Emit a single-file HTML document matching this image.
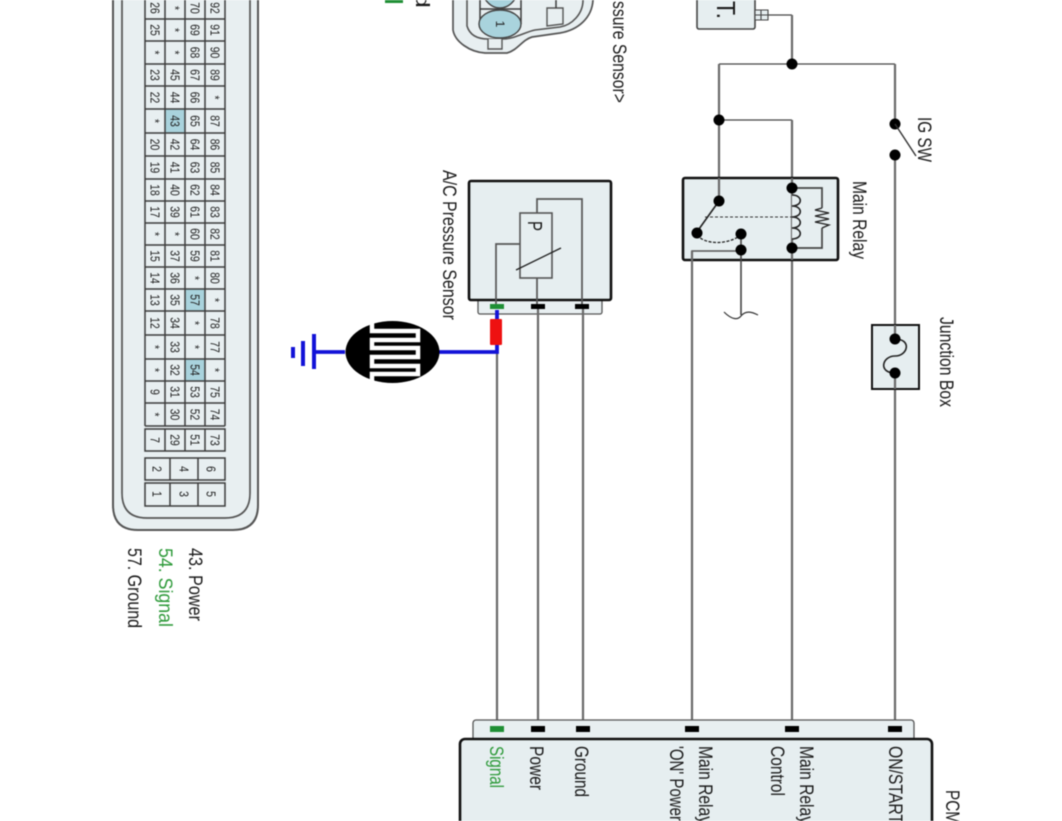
<!DOCTYPE html>
<html><head><meta charset="utf-8"><style>
html,body{margin:0;padding:0;background:#fff}
svg{display:block;filter:blur(.4px)}
text{font-family:"Liberation Sans",sans-serif;fill:#1a1a1a}
.c{font-size:13px;text-anchor:middle;fill:#222}
.l{font-size:19px}
.w{fill:none;stroke:#6a6a6a;stroke-width:2.2}
.t{fill:none;stroke:#444;stroke-width:1.3}
.b{fill:#e6eef0;stroke:#111;stroke-width:2.6}
.g{stroke:#3c3c3c;stroke-width:1.5;fill:none}
</style></head><body>
<svg width="1062" height="821" viewBox="0 0 1062 821" xmlns="http://www.w3.org/2000/svg">
<rect width="1062" height="821" fill="#fff"/>
<!-- ECU connector -->
<path d="M113 -5V505Q113 530 138 530H233Q258 530 258 505V-5" fill="#e8eff1" stroke="#555" stroke-width="2"/>
<path d="M122 -5V493Q122 518 147 518H225Q250 518 250 493V-5" fill="none" stroke="#555" stroke-width="1.7"/>
<rect x="165" y="109" width="20" height="24" fill="#a9d3dd"/>
<rect x="185" y="289" width="20" height="22" fill="#a9d3dd"/>
<rect x="185" y="359" width="20" height="22" fill="#a9d3dd"/>
<path class="g" d="M145 -3V426M165 -3V426M185 -3V426M205 -3V426M225 -3V426M145 19H225M145 41H225M145 64H225M145 86H225M145 109H225M145 133H225M145 156H225M145 179H225M145 201H225M145 223H225M145 245H225M145 267H225M145 289H225M145 311H225M145 335H225M145 359H225M145 381H225M145 403H225M145 426H225"/>
<path class="g" d="M145 429H225V451H145ZM165 429V451M185 429V451M205 429V451M145 458H225V480H145ZM170 458V480M198 458V480M145 483H225V506H145ZM170 483V506M198 483V506"/>
<g class="c">
<text class="c" transform="translate(155,8) rotate(90) scale(.8,1)" y="4.5">26</text><text class="c" transform="translate(175,8) rotate(90) scale(.8,1)" y="4.5">*</text><text class="c" transform="translate(195,8) rotate(90) scale(.8,1)" y="4.5">70</text><text class="c" transform="translate(215,8) rotate(90) scale(.8,1)" y="4.5">92</text>
<text class="c" transform="translate(155,30) rotate(90) scale(.8,1)" y="4.5">25</text><text class="c" transform="translate(175,30) rotate(90) scale(.8,1)" y="4.5">*</text><text class="c" transform="translate(195,30) rotate(90) scale(.8,1)" y="4.5">69</text><text class="c" transform="translate(215,30) rotate(90) scale(.8,1)" y="4.5">91</text>
<text class="c" transform="translate(155,52.5) rotate(90) scale(.8,1)" y="4.5">*</text><text class="c" transform="translate(175,52.5) rotate(90) scale(.8,1)" y="4.5">*</text><text class="c" transform="translate(195,52.5) rotate(90) scale(.8,1)" y="4.5">68</text><text class="c" transform="translate(215,52.5) rotate(90) scale(.8,1)" y="4.5">90</text>
<text class="c" transform="translate(155,75) rotate(90) scale(.8,1)" y="4.5">23</text><text class="c" transform="translate(175,75) rotate(90) scale(.8,1)" y="4.5">45</text><text class="c" transform="translate(195,75) rotate(90) scale(.8,1)" y="4.5">67</text><text class="c" transform="translate(215,75) rotate(90) scale(.8,1)" y="4.5">89</text>
<text class="c" transform="translate(155,97.5) rotate(90) scale(.8,1)" y="4.5">22</text><text class="c" transform="translate(175,97.5) rotate(90) scale(.8,1)" y="4.5">44</text><text class="c" transform="translate(195,97.5) rotate(90) scale(.8,1)" y="4.5">66</text><text class="c" transform="translate(215,97.5) rotate(90) scale(.8,1)" y="4.5">*</text>
<text class="c" transform="translate(155,121) rotate(90) scale(.8,1)" y="4.5">*</text><text class="c" transform="translate(175,121) rotate(90) scale(.8,1)" y="4.5">43</text><text class="c" transform="translate(195,121) rotate(90) scale(.8,1)" y="4.5">65</text><text class="c" transform="translate(215,121) rotate(90) scale(.8,1)" y="4.5">87</text>
<text class="c" transform="translate(155,144.5) rotate(90) scale(.8,1)" y="4.5">20</text><text class="c" transform="translate(175,144.5) rotate(90) scale(.8,1)" y="4.5">42</text><text class="c" transform="translate(195,144.5) rotate(90) scale(.8,1)" y="4.5">64</text><text class="c" transform="translate(215,144.5) rotate(90) scale(.8,1)" y="4.5">86</text>
<text class="c" transform="translate(155,167.5) rotate(90) scale(.8,1)" y="4.5">19</text><text class="c" transform="translate(175,167.5) rotate(90) scale(.8,1)" y="4.5">41</text><text class="c" transform="translate(195,167.5) rotate(90) scale(.8,1)" y="4.5">63</text><text class="c" transform="translate(215,167.5) rotate(90) scale(.8,1)" y="4.5">85</text>
<text class="c" transform="translate(155,190) rotate(90) scale(.8,1)" y="4.5">18</text><text class="c" transform="translate(175,190) rotate(90) scale(.8,1)" y="4.5">40</text><text class="c" transform="translate(195,190) rotate(90) scale(.8,1)" y="4.5">62</text><text class="c" transform="translate(215,190) rotate(90) scale(.8,1)" y="4.5">84</text>
<text class="c" transform="translate(155,212) rotate(90) scale(.8,1)" y="4.5">17</text><text class="c" transform="translate(175,212) rotate(90) scale(.8,1)" y="4.5">39</text><text class="c" transform="translate(195,212) rotate(90) scale(.8,1)" y="4.5">61</text><text class="c" transform="translate(215,212) rotate(90) scale(.8,1)" y="4.5">83</text>
<text class="c" transform="translate(155,234) rotate(90) scale(.8,1)" y="4.5">*</text><text class="c" transform="translate(175,234) rotate(90) scale(.8,1)" y="4.5">*</text><text class="c" transform="translate(195,234) rotate(90) scale(.8,1)" y="4.5">60</text><text class="c" transform="translate(215,234) rotate(90) scale(.8,1)" y="4.5">82</text>
<text class="c" transform="translate(155,256) rotate(90) scale(.8,1)" y="4.5">15</text><text class="c" transform="translate(175,256) rotate(90) scale(.8,1)" y="4.5">37</text><text class="c" transform="translate(195,256) rotate(90) scale(.8,1)" y="4.5">59</text><text class="c" transform="translate(215,256) rotate(90) scale(.8,1)" y="4.5">81</text>
<text class="c" transform="translate(155,278) rotate(90) scale(.8,1)" y="4.5">14</text><text class="c" transform="translate(175,278) rotate(90) scale(.8,1)" y="4.5">36</text><text class="c" transform="translate(195,278) rotate(90) scale(.8,1)" y="4.5">*</text><text class="c" transform="translate(215,278) rotate(90) scale(.8,1)" y="4.5">80</text>
<text class="c" transform="translate(155,300) rotate(90) scale(.8,1)" y="4.5">13</text><text class="c" transform="translate(175,300) rotate(90) scale(.8,1)" y="4.5">35</text><text class="c" transform="translate(195,300) rotate(90) scale(.8,1)" y="4.5">57</text><text class="c" transform="translate(215,300) rotate(90) scale(.8,1)" y="4.5">*</text>
<text class="c" transform="translate(155,323) rotate(90) scale(.8,1)" y="4.5">12</text><text class="c" transform="translate(175,323) rotate(90) scale(.8,1)" y="4.5">34</text><text class="c" transform="translate(195,323) rotate(90) scale(.8,1)" y="4.5">*</text><text class="c" transform="translate(215,323) rotate(90) scale(.8,1)" y="4.5">78</text>
<text class="c" transform="translate(155,347) rotate(90) scale(.8,1)" y="4.5">*</text><text class="c" transform="translate(175,347) rotate(90) scale(.8,1)" y="4.5">33</text><text class="c" transform="translate(195,347) rotate(90) scale(.8,1)" y="4.5">*</text><text class="c" transform="translate(215,347) rotate(90) scale(.8,1)" y="4.5">77</text>
<text class="c" transform="translate(155,370) rotate(90) scale(.8,1)" y="4.5">*</text><text class="c" transform="translate(175,370) rotate(90) scale(.8,1)" y="4.5">32</text><text class="c" transform="translate(195,370) rotate(90) scale(.8,1)" y="4.5">54</text><text class="c" transform="translate(215,370) rotate(90) scale(.8,1)" y="4.5">*</text>
<text class="c" transform="translate(155,392) rotate(90) scale(.8,1)" y="4.5">9</text><text class="c" transform="translate(175,392) rotate(90) scale(.8,1)" y="4.5">31</text><text class="c" transform="translate(195,392) rotate(90) scale(.8,1)" y="4.5">53</text><text class="c" transform="translate(215,392) rotate(90) scale(.8,1)" y="4.5">75</text>
<text class="c" transform="translate(155,414.5) rotate(90) scale(.8,1)" y="4.5">*</text><text class="c" transform="translate(175,414.5) rotate(90) scale(.8,1)" y="4.5">30</text><text class="c" transform="translate(195,414.5) rotate(90) scale(.8,1)" y="4.5">52</text><text class="c" transform="translate(215,414.5) rotate(90) scale(.8,1)" y="4.5">74</text>
<text class="c" transform="translate(155,440) rotate(90) scale(.8,1)" y="4.5">7</text><text class="c" transform="translate(175,440) rotate(90) scale(.8,1)" y="4.5">29</text><text class="c" transform="translate(195,440) rotate(90) scale(.8,1)" y="4.5">51</text><text class="c" transform="translate(215,440) rotate(90) scale(.8,1)" y="4.5">73</text>
<text class="c" transform="translate(157,469) rotate(90) scale(.8,1)" y="4.5">2</text><text class="c" transform="translate(184,469) rotate(90) scale(.8,1)" y="4.5">4</text><text class="c" transform="translate(211,469) rotate(90) scale(.8,1)" y="4.5">6</text>
<text class="c" transform="translate(157,494) rotate(90) scale(.8,1)" y="4.5">1</text><text class="c" transform="translate(184,494) rotate(90) scale(.8,1)" y="4.5">3</text><text class="c" transform="translate(211,494) rotate(90) scale(.8,1)" y="4.5">5</text>
</g>
<!-- pin legend -->
<text class="l" transform="translate(189,548) rotate(90)" textLength="73" lengthAdjust="spacingAndGlyphs">43. Power</text>
<text class="l" style="fill:#2e9a3a" transform="translate(159,548) rotate(90)" textLength="79" lengthAdjust="spacingAndGlyphs">54. Signal</text>
<text class="l" transform="translate(128,548) rotate(90)" textLength="80" lengthAdjust="spacingAndGlyphs">57. Ground</text>
<!-- top-left fragments -->
<rect x="385" y="-4" width="18" height="7" fill="#1f8f35"/>
<text class="l" transform="translate(416,-7) rotate(90)" textLength="15" lengthAdjust="spacingAndGlyphs">d</text>
<path d="M453 0V30C455 42 470 52 485 53H507C518 50 522 40 532 37L560 33C578 30 592 18 593 0" fill="#e8eff1" stroke="#555" stroke-width="1.7"/>
<path d="M467 0V26C470 36 478 39 488 39H502C515 39 525 32 535 30L560 27C572 25 583 14 583 0" fill="none" stroke="#555" stroke-width="1.6"/>
<path d="M488 39V49H502V39" fill="#e8eff1" stroke="#555" stroke-width="1.4"/>
<path d="M480 0V24M521 0V24M480 9H521" class="g"/>
<ellipse cx="500" cy="-22" rx="21" ry="30" fill="#a9d3dd" stroke="#444" stroke-width="1.4"/>
<ellipse cx="500" cy="24" rx="21" ry="14" fill="#a9d3dd" stroke="#444" stroke-width="1.4"/>
<text class="c" style="font-size:12px" transform="translate(500,24) rotate(90)" y="4">1</text>
<path d="M547 8H563V24L547 26Z" fill="#e8eff1" stroke="#555" stroke-width="1.4"/>
<path d="M556 8V-2H582" class="g"/>
<text class="l" transform="translate(613,103) rotate(90)" text-anchor="end" textLength="102" lengthAdjust="spacingAndGlyphs">ssure Sensor&gt;</text>
<!-- battery -->
<rect x="697" y="-6" width="58" height="35" rx="2" fill="#e6eef0" stroke="#444" stroke-width="1.6"/>
<text class="l" style="font-size:26px" transform="translate(717,1) rotate(90)" textLength="18" lengthAdjust="spacingAndGlyphs">T.</text>
<path d="M755 10H768V20H755ZM761 10V20M755 15H768" fill="#e6eef0" stroke="#444" stroke-width="1.1"/>
<!-- top wires -->
<path class="t" d="M768 15H792"/>
<path class="w" d="M792 15V64"/>
<path class="t" d="M719 64H895"/>
<path class="w" d="M719 64V201M895 64V124M895 155V325M895 389V720"/>
<path class="t" d="M719 120H792"/>
<path class="w" d="M792 120V720"/>
<!-- main relay -->
<rect x="683" y="178" width="155" height="82" rx="2" class="b"/>
<path class="w" d="M719 178V201M792 178V260"/>
<path d="M792 188H822V208M822 228V248H792" fill="none" stroke="#444" stroke-width="1.7"/>
<path d="M822 208L815 210L829 213L815 216L829 219L815 222L829 225L822 228" fill="none" stroke="#222" stroke-width="1.3"/>
<path d="M792 195c11 0 11 11 0 11c11 0 11 11 0 11c11 0 11 11 0 11c11 0 11 11 0 11" fill="#e6eef0" stroke="#222" stroke-width="1.6"/>
<path d="M705 217H792" fill="none" stroke="#333" stroke-width="1" stroke-dasharray="3 2"/>
<path d="M719 201L699 229" fill="none" stroke="#222" stroke-width="1.6"/>
<path d="M697 235C705 245 728 245 741 235" fill="none" stroke="#222" stroke-width="1.3" stroke-dasharray="3 1.5"/>
<path d="M692 260V251H741" fill="none" stroke="#555" stroke-width="1.6"/>
<path d="M741 234V315" fill="none" stroke="#444" stroke-width="1.6"/>
<path d="M724 312C732 320 738 320 741 316C746 310 752 312 758 315" fill="none" stroke="#333" stroke-width="1.2"/>
<path class="w" d="M692 251V720"/>
<circle cx="719" cy="120" r="5.5" fill="#000"/><circle cx="792" cy="64" r="5.5" fill="#000"/>
<circle cx="719" cy="201" r="5.5" fill="#000"/><circle cx="792" cy="188" r="5.5" fill="#000"/><circle cx="792" cy="248" r="5.5" fill="#000"/>
<circle cx="697" cy="233" r="5.5" fill="#000"/><circle cx="741" cy="234" r="5.5" fill="#000"/><circle cx="741" cy="250" r="5.5" fill="#000"/>
<text class="l" transform="translate(853,181) rotate(90)" textLength="78" lengthAdjust="spacingAndGlyphs">Main Relay</text>
<!-- IG switch -->
<circle cx="895" cy="124" r="5.5" fill="#000"/><circle cx="895" cy="155" r="5.5" fill="#000"/>
<path d="M895 124L916 156" fill="none" stroke="#333" stroke-width="1.4"/>
<text class="l" transform="translate(918,117) rotate(90)" textLength="45" lengthAdjust="spacingAndGlyphs">IG SW</text>
<!-- junction box -->
<rect x="872" y="325" width="47" height="64" class="b" style="stroke-width:2"/>
<path class="w" d="M895 325V339M895 373V389"/>
<path d="M895 339C912 339 908 356 895 356C882 356 878 373 895 373" fill="none" stroke="#222" stroke-width="1.6"/>
<circle cx="895" cy="339" r="5.5" fill="#000"/><circle cx="895" cy="373" r="5.5" fill="#000"/>
<text class="l" transform="translate(940,317) rotate(90)" textLength="90" lengthAdjust="spacingAndGlyphs">Junction Box</text>
<!-- A/C pressure sensor -->
<rect x="478" y="298" width="124" height="16" rx="2" fill="#e8eff1" stroke="#555" stroke-width="1.3"/>
<rect x="469" y="181" width="142" height="119" rx="2" class="b"/>
<path d="M582 306V199H537V213M537 278V306M496 306V244H520" fill="none" stroke="#555" stroke-width="1.7"/>
<rect x="520" y="213" width="32" height="65" fill="#e6eef0" stroke="#555" stroke-width="1.6"/>
<path d="M516 270L561 248" fill="none" stroke="#222" stroke-width="1.3"/>
<text class="l" style="font-size:20px" transform="translate(528,221) rotate(90)" textLength="10" lengthAdjust="spacingAndGlyphs">P</text>
<rect x="490" y="304" width="14" height="5" fill="#1f8f35"/>
<rect x="531" y="304" width="14" height="5" fill="#000"/>
<rect x="575" y="304" width="14" height="5" fill="#000"/>
<text class="l" transform="translate(443,170) rotate(90)" textLength="150" lengthAdjust="spacingAndGlyphs">A/C Pressure Sensor</text>
<!-- sensor wires -->
<path class="w" d="M497 352V720M538 309V725M583 309V725"/>
<path d="M497 310V352H438M345 352H315" fill="none" stroke="#1212d8" stroke-width="3.8"/>
<rect x="490" y="319" width="12" height="26" rx="1" fill="#ee1111"/>
<path d="M314 334V369M303 341V366M293 347V358" fill="none" stroke="#1212d8" stroke-width="4"/>
<ellipse cx="392.5" cy="352" rx="47" ry="31" fill="#000"/>
<path d="M372 323V331H418V340H372V348H418V357H372V366H418V374H372V381" fill="none" stroke="#fff" stroke-width="4.5"/>
<!-- PCM -->
<rect x="473" y="720" width="441" height="24" rx="3" fill="#e8eff1" stroke="#555" stroke-width="1.3"/>
<rect x="460" y="739" width="472" height="100" rx="5" class="b"/>
<rect x="490" y="726" width="14" height="6" fill="#1f8f35"/>
<rect x="531" y="726" width="14" height="6" fill="#000"/>
<rect x="576" y="726" width="14" height="6" fill="#000"/>
<rect x="685" y="726" width="14" height="6" fill="#000"/>
<rect x="785" y="726" width="14" height="6" fill="#000"/>
<rect x="888" y="726" width="14" height="6" fill="#000"/>
<text class="l" style="fill:#2e9a3a" transform="translate(490,746) rotate(90)" textLength="42" lengthAdjust="spacingAndGlyphs">Signal</text>
<text class="l" transform="translate(530,746) rotate(90)" textLength="44" lengthAdjust="spacingAndGlyphs">Power</text>
<text class="l" transform="translate(575,746) rotate(90)" textLength="51" lengthAdjust="spacingAndGlyphs">Ground</text>
<text class="l" transform="translate(699,746) rotate(90)" textLength="78" lengthAdjust="spacingAndGlyphs">Main Relay</text>
<text class="l" transform="translate(670,746) rotate(90)" textLength="75" lengthAdjust="spacingAndGlyphs">'ON' Power</text>
<text class="l" transform="translate(800,746) rotate(90)" textLength="78" lengthAdjust="spacingAndGlyphs">Main Relay</text>
<text class="l" transform="translate(771,746) rotate(90)" textLength="50" lengthAdjust="spacingAndGlyphs">Control</text>
<text class="l" transform="translate(889,746) rotate(90)" textLength="78" lengthAdjust="spacingAndGlyphs">ON/START</text>
<text class="l" transform="translate(946,790) rotate(90)" textLength="34" lengthAdjust="spacingAndGlyphs">PCM</text>
</svg>
</body></html>
